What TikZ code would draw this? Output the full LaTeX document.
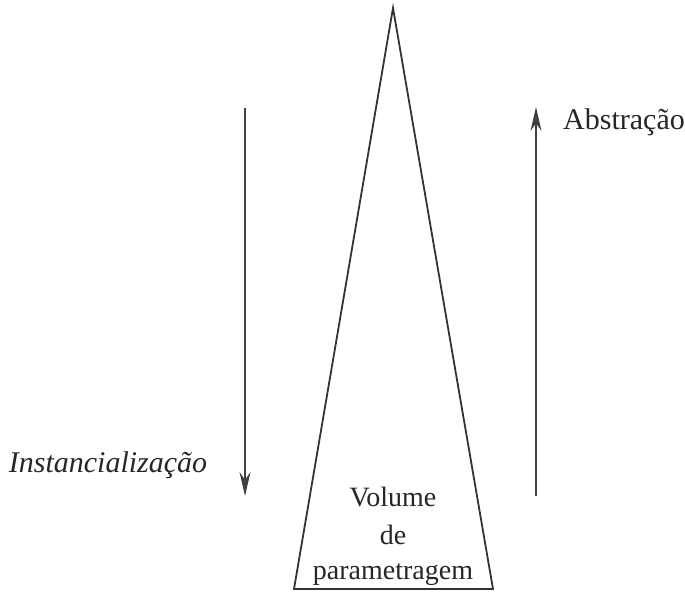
\documentclass[tikz,border=0pt]{standalone}
\usepackage{fontspec}
\setmainfont{Liberation Serif}
\usetikzlibrary{arrows.meta}
\begin{document}
\begin{tikzpicture}[x=1pt,y=-1pt,
  lbl/.style={font=\fontsize{30}{32}\selectfont, inner sep=0pt, text=black!85},
  tlbl/.style={font=\fontsize{28}{30}\selectfont, inner sep=0pt, text=black!85, anchor=base},
  edge/.style={line width=1.8pt, draw=black!80},
  arr/.style={line width=1.6pt, draw=black!75, -{Stealth[length=24pt,width=11pt]}}]
\useasboundingbox (0,0) rectangle (685,592);
\coordinate (apex) at (393,8);
\coordinate (bl) at (294,589);
\coordinate (br) at (493,589);
\draw[edge, line join=miter] (bl) -- (apex) -- (br) -- cycle;
\node[tlbl] (vol) at (393,506) {Volume};
\node[tlbl] (de) at (393,544) {de};
\node[tlbl] (par) at (393,579) {parametragem};
\coordinate (ls) at (245,108);
\coordinate (le) at (245,496);
\draw[arr] (ls) -- (le);
\coordinate (rs) at (536,496);
\coordinate (re) at (536,107);
\draw[arr] (rs) -- (re);
\node[lbl, anchor=west] (abs) at (563,122) {Abstração};
\node[lbl] (inst) at (108,465) {\itshape Instancialização};
\end{tikzpicture}
\end{document}
